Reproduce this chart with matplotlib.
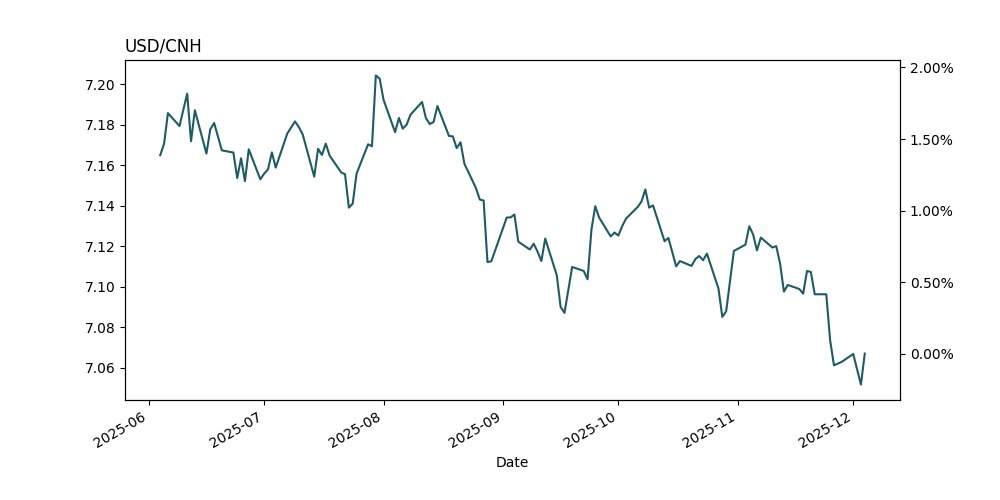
import matplotlib
matplotlib.use("Agg")
import matplotlib.pyplot as plt
import matplotlib.ticker as mticker
import pandas as pd

# USD/CNH closes
dates = [
    "2025-06-04", "2025-06-05", "2025-06-06", "2025-06-09", "2025-06-11", "2025-06-12",
    "2025-06-13", "2025-06-16", "2025-06-17", "2025-06-18", "2025-06-20", "2025-06-23",
    "2025-06-24", "2025-06-25", "2025-06-26", "2025-06-27", "2025-06-30", "2025-07-01",
    "2025-07-02", "2025-07-03", "2025-07-04", "2025-07-07", "2025-07-09", "2025-07-10",
    "2025-07-11", "2025-07-14", "2025-07-15", "2025-07-16", "2025-07-17", "2025-07-18",
    "2025-07-21", "2025-07-22", "2025-07-23", "2025-07-24", "2025-07-25", "2025-07-28",
    "2025-07-29", "2025-07-30", "2025-07-31", "2025-08-01", "2025-08-04", "2025-08-05",
    "2025-08-06", "2025-08-07", "2025-08-08", "2025-08-11", "2025-08-12", "2025-08-13",
    "2025-08-14", "2025-08-15", "2025-08-18", "2025-08-19", "2025-08-20", "2025-08-21",
    "2025-08-22", "2025-08-25", "2025-08-26", "2025-08-27", "2025-08-28", "2025-08-29",
    "2025-09-02", "2025-09-03", "2025-09-04", "2025-09-05", "2025-09-08", "2025-09-09",
    "2025-09-10", "2025-09-11", "2025-09-12", "2025-09-15", "2025-09-16", "2025-09-17",
    "2025-09-19", "2025-09-22", "2025-09-23", "2025-09-24", "2025-09-25", "2025-09-26",
    "2025-09-29", "2025-09-30", "2025-10-01", "2025-10-02", "2025-10-03", "2025-10-06",
    "2025-10-07", "2025-10-08", "2025-10-09", "2025-10-10", "2025-10-13", "2025-10-14",
    "2025-10-16", "2025-10-17", "2025-10-20", "2025-10-21", "2025-10-22", "2025-10-23",
    "2025-10-24", "2025-10-27", "2025-10-28", "2025-10-29", "2025-10-31", "2025-11-03",
    "2025-11-04", "2025-11-05", "2025-11-06", "2025-11-07", "2025-11-10", "2025-11-11",
    "2025-11-12", "2025-11-13", "2025-11-14", "2025-11-17", "2025-11-18", "2025-11-19",
    "2025-11-20", "2025-11-21", "2025-11-24", "2025-11-25", "2025-11-26", "2025-11-28",
    "2025-12-01", "2025-12-03", "2025-12-04",
]
close = [
    7.1650, 7.1707, 7.1858, 7.1794, 7.1954, 7.1719,
    7.1872, 7.1658, 7.1778, 7.1809, 7.1674, 7.1663,
    7.1537, 7.1635, 7.1522, 7.1679, 7.1531, 7.1559,
    7.1580, 7.1664, 7.1589, 7.1757, 7.1817, 7.1789,
    7.1753, 7.1544, 7.1682, 7.1651, 7.1707, 7.1648,
    7.1565, 7.1556, 7.1391, 7.1411, 7.1559, 7.1704,
    7.1694, 7.2044, 7.2028, 7.1924, 7.1764, 7.1834,
    7.1781, 7.1801, 7.1850, 7.1913, 7.1834, 7.1804,
    7.1814, 7.1893, 7.1745, 7.1743, 7.1685, 7.1714,
    7.1608, 7.1488, 7.1431, 7.1426, 7.1122, 7.1126,
    7.1342, 7.1343, 7.1357, 7.1223, 7.1184, 7.1213,
    7.1174, 7.1127, 7.1238, 7.1057, 7.0900, 7.0871,
    7.1098, 7.1078, 7.1037, 7.1282, 7.1398, 7.1342,
    7.1249, 7.1268, 7.1253, 7.1300, 7.1337, 7.1394,
    7.1421, 7.1481, 7.1391, 7.1402, 7.1225, 7.1241,
    7.1101, 7.1127, 7.1103, 7.1137, 7.1152, 7.1131,
    7.1164, 7.0991, 7.0851, 7.0879, 7.1177, 7.1208,
    7.1299, 7.1258, 7.1180, 7.1243, 7.1194, 7.1201,
    7.1115, 7.0976, 7.1009, 7.0989, 7.0966, 7.1078,
    7.1073, 7.0963, 7.0963, 7.0736, 7.0612, 7.0629,
    7.0668, 7.0517, 7.0670,
]

s = pd.Series(close, index=pd.to_datetime(dates))

fig, ax = plt.subplots(figsize=(10, 5), dpi=100)
ax.plot(s.index, s.values, color="#1f5b64", linewidth=1.5)
ax.set_title("USD/CNH", loc="left")
ax.set_xlabel("Date")
ax.yaxis.set_major_formatter(mticker.FormatStrFormatter("%.2f"))

# right axis: change relative to the latest close
last = s.iloc[-1]
ax2 = ax.twinx()
lo, hi = ax.get_ylim()
ax2.set_ylim((lo / last - 1) * 100, (hi / last - 1) * 100)
ax2.yaxis.set_major_formatter(mticker.FuncFormatter(lambda v, p: f"{v:.2f}%"))

fig.autofmt_xdate()
plt.savefig("out.png")
